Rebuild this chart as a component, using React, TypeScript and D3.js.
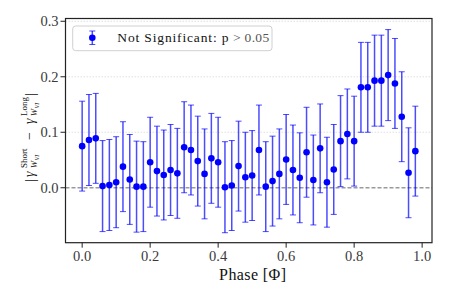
import * as d3 from 'd3';

const W = 449;
const H = 299;

const phases = [
  0.0, 0.02, 0.04, 0.06, 0.08, 0.1, 0.12, 0.14, 0.16, 0.18,
  0.2, 0.22, 0.24, 0.26, 0.28, 0.3, 0.32, 0.34, 0.36, 0.38,
  0.4, 0.42, 0.44, 0.46, 0.48, 0.5, 0.52, 0.54, 0.56, 0.58,
  0.6, 0.62, 0.64, 0.66, 0.68, 0.7, 0.72, 0.74, 0.76, 0.78,
  0.8, 0.82, 0.84, 0.86, 0.88, 0.9, 0.92, 0.94, 0.96, 0.98,
];

const diffs = [
  0.075, 0.086, 0.089, 0.003, 0.005, 0.010, 0.038, 0.015, 0.002, 0.002,
  0.046, 0.030, 0.023, 0.032, 0.026, 0.073, 0.068, 0.048, 0.025, 0.053,
  0.046, 0.001, 0.004, 0.039, 0.019, 0.022, 0.068, 0.002, 0.012, 0.025,
  0.051, 0.032, 0.018, 0.064, 0.014, 0.071, 0.010, 0.033, 0.084, 0.097,
  0.084, 0.181, 0.181, 0.193, 0.193, 0.203, 0.188, 0.128, 0.027, 0.066,
];

const errs = [
  0.081, 0.082, 0.081, 0.082, 0.082, 0.082, 0.081, 0.081, 0.082, 0.081,
  0.081, 0.081, 0.081, 0.082, 0.081, 0.082, 0.081, 0.081, 0.081, 0.081,
  0.081, 0.082, 0.081, 0.081, 0.081, 0.081, 0.081, 0.081, 0.081, 0.081,
  0.081, 0.081, 0.081, 0.081, 0.081, 0.080, 0.081, 0.081, 0.082, 0.081,
  0.081, 0.081, 0.081, 0.082, 0.082, 0.082, 0.081, 0.081, 0.081, 0.081,
];

const xTicks = [0.0, 0.2, 0.4, 0.6, 0.8, 1.0];
const yTicks = [0.0, 0.1, 0.2, 0.3];
const gridTicks = [0.1, 0.2, 0.3];

const legendLabel = 'Not Significant: ';

const SERIF = '"Liberation Serif", serif';
const BLUE = '#0000ff';

export default function App() {
  const x = d3.scaleLinear().domain([-0.049, 1.029]).range([65.5, 432]);
  const y = d3.scaleLinear().domain([-0.099, 0.305]).range([242.7, 18.5]);
  const [x0, x1] = x.range();
  const [y0, y1] = y.range();
  const cap = 3;

  return (
    <svg
      width={W}
      height={H}
      style={{ position: 'absolute', left: 0, top: 0, background: '#fff' }}
    >
      {/* grid */}
      {gridTicks.map(t => (
        <line key={`g${t}`} x1={x0} x2={x1} y1={y(t)} y2={y(t)}
          stroke="#d8d8d8" strokeWidth={0.8} strokeDasharray="1.5,1.5" />
      ))}
      {/* zero reference */}
      <line x1={x0} x2={x1} y1={y(0)} y2={y(0)}
        stroke="#9a9a9a" strokeWidth={1.3} strokeDasharray="4,2" />

      {/* error bars */}
      <g stroke={BLUE} strokeOpacity={0.7}>
        {phases.map((p, i) => {
          const cx = x(p);
          const lo = y(diffs[i] - errs[i]);
          const hi = y(diffs[i] + errs[i]);
          return (
            <g key={`e${i}`}>
              <line x1={cx} x2={cx} y1={lo} y2={hi} strokeWidth={1.5} />
              <line x1={cx - cap} x2={cx + cap} y1={lo} y2={lo} strokeWidth={1} />
              <line x1={cx - cap} x2={cx + cap} y1={hi} y2={hi} strokeWidth={1} />
            </g>
          );
        })}
      </g>
      <g fill={BLUE}>
        {phases.map((p, i) => (
          <circle key={`c${i}`} cx={x(p)} cy={y(diffs[i])} r={3.3} />
        ))}
      </g>

      {/* frame */}
      <rect x={x0} y={y1} width={x1 - x0} height={y0 - y1}
        fill="none" stroke="#222" strokeWidth={1.2} />

      {/* x axis */}
      {xTicks.map(t => (
        <g key={`xt${t}`}>
          <line x1={x(t)} x2={x(t)} y1={y0} y2={y0 + 5} stroke="#222" strokeWidth={1} />
          <text x={x(t)} y={y0 + 18.5} textAnchor="middle" fontFamily={SERIF}
            fontSize={14.5} fill="#3a3a3a">{t.toFixed(1)}</text>
        </g>
      ))}
      <text x={(x0 + x1) / 2 + 4} y={280} textAnchor="middle" fontFamily={SERIF}
        fontSize={16} letterSpacing={0.4} fill="#111">Phase [Φ]</text>

      {/* y axis */}
      {yTicks.map(t => (
        <g key={`yt${t}`}>
          <line x1={x0 - 5} x2={x0} y1={y(t)} y2={y(t)} stroke="#222" strokeWidth={1} />
          <text x={x0 - 7} y={y(t) + 5} textAnchor="end" fontFamily={SERIF}
            fontSize={14.5} fill="#3a3a3a">{t.toFixed(1)}</text>
        </g>
      ))}

      {/* y label */}
      <g transform="translate(34,182) rotate(-90)" fill="#111" fontFamily={SERIF}>
        <text x={0} y={1} fontSize={15}>|</text>
        <text x={5} y={0} fontSize={14} fontStyle="italic">γ</text>
        <text x={14} y={-7.5} fontSize={9}>Short</text>
        <text x={14} y={3} fontSize={8.5} fontStyle="italic">W</text>
        <text x={21.5} y={4.5} fontSize={6} fontStyle="italic">VI</text>
        <text x={42} y={0} fontSize={14}>−</text>
        <text x={58} y={0} fontSize={14} fontStyle="italic">γ</text>
        <text x={66} y={-7.5} fontSize={9}>Long</text>
        <text x={66} y={3} fontSize={8.5} fontStyle="italic">W</text>
        <text x={73.5} y={4.5} fontSize={6} fontStyle="italic">VI</text>
        <text x={86} y={1} fontSize={15}>|</text>
      </g>

      {/* legend */}
      <rect x={72.7} y={26} width={199.3} height={24.7} rx={3}
        fill="#fff" fillOpacity={0.85} stroke="#d0d0d0" strokeWidth={1} />
      <g stroke={BLUE} strokeOpacity={0.7}>
        <line x1={92.3} x2={92.3} y1={31} y2={44.5} strokeWidth={1.5} />
        <line x1={89.3} x2={95.3} y1={31} y2={31} strokeWidth={1} />
        <line x1={89.3} x2={95.3} y1={44.5} y2={44.5} strokeWidth={1} />
      </g>
      <circle cx={92.3} cy={37.8} r={3.3} fill={BLUE} />
      <text x={117.3} y={41.5} fontFamily={SERIF} fontSize={13.5} letterSpacing={0.85} fill="#111">
        {legendLabel}
        <tspan>p</tspan>
        <tspan fill="#555" letterSpacing={0.3}> &gt; 0.05</tspan>
      </text>
    </svg>
  );
}
